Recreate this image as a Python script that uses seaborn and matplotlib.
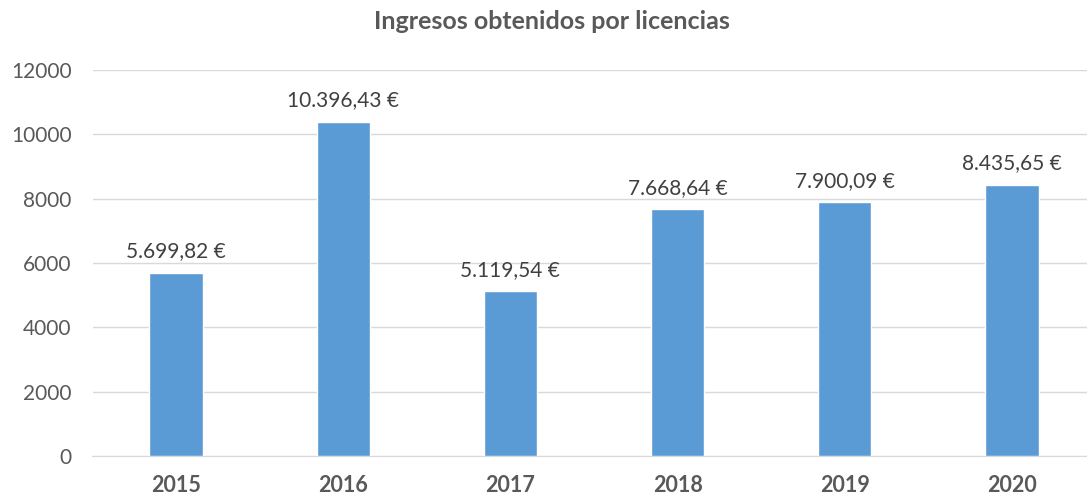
import matplotlib
matplotlib.use("Agg")
import matplotlib.pyplot as plt
import seaborn as sns
import pandas as pd

years = ["2015", "2016", "2017", "2018", "2019", "2020"]
ingresos = [5699.82, 10396.43, 5119.54, 7668.64, 7900.09, 8435.65]


def euro(v):
    s = f"{v:,.2f}"
    s = s.replace(",", "X").replace(".", ",").replace("X", ".")
    return s + " €"


sns.set_style("white")
plt.rcParams["font.family"] = ["Lato", "DejaVu Sans"]

df = pd.DataFrame({"year": years, "ingresos": ingresos})

fig = plt.figure(figsize=(10.87, 4.99), dpi=100)
ax = fig.add_axes([92.5 / 1087, 1 - 456 / 499, 1003 / 1087, 386 / 499])
sns.barplot(data=df, x="year", y="ingresos", color="#5B9BD5", width=0.32,
            saturation=1, ax=ax, zorder=3)

for i, v in enumerate(ingresos):
    ax.text(i, v + 350, euro(v), ha="center", va="bottom",
            fontsize=15, color="#404040")

ax.set_ylim(0, 12000)
ax.set_xlim(-0.5, 5.5)
ax.set_yticks(range(0, 12001, 2000))
ax.yaxis.grid(True, color="#D9D9D9", linewidth=1, zorder=0)
for s in ["top", "right", "left"]:
    ax.spines[s].set_visible(False)
ax.spines["bottom"].set_color("#D9D9D9")
ax.tick_params(axis="y", labelsize=15, colors="#595959", length=0, pad=15)
ax.tick_params(axis="x", labelsize=15.5, colors="#595959", length=0, pad=14)
for lab in ax.get_xticklabels():
    lab.set_fontweight("bold")
ax.set_xlabel("")
ax.set_ylabel("")
fig.suptitle("Ingresos obtenidos por licencias", y=0.98, x=0.508,
             fontsize=18, fontweight="bold", color="#595959")

fig.savefig("out.png", dpi=100)
